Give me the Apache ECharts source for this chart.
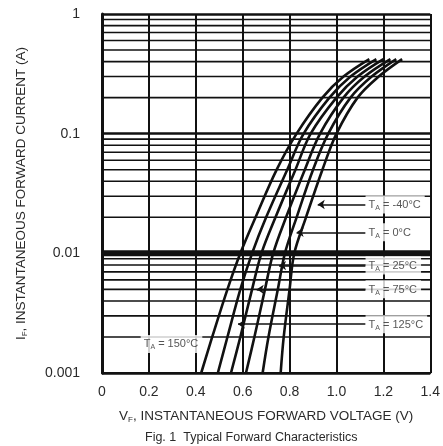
<!DOCTYPE html>
<html>
<head>
<meta charset="utf-8">
<script src="https://cdn.jsdelivr.net/npm/echarts@6/dist/echarts.min.js"></script>
<style>
html,body{margin:0;padding:0;background:#fff;}
#chart{width:443px;height:446px;}
</style>
</head>
<body>
<div id="chart"></div>
<script>
// ---- data ----
const currents = [0.001, 0.002, 0.005, 0.01, 0.02, 0.05, 0.1, 0.2, 0.3, 0.42];
const vfTemp150 = [0.423, 0.47, 0.535, 0.59, 0.655, 0.745, 0.83, 0.94, 1.03, 1.14];
const vfTemp125 = [0.494, 0.535, 0.59, 0.64, 0.70, 0.79, 0.86, 0.97, 1.06, 1.17];
const vfTemp75  = [0.550, 0.59, 0.64, 0.68, 0.74, 0.825, 0.89, 1.00, 1.09, 1.20];
const vfTemp25  = [0.614, 0.65, 0.695, 0.73, 0.785, 0.865, 0.93, 1.03, 1.12, 1.23];
const vfTemp0   = [0.685, 0.71, 0.75, 0.78, 0.83, 0.90, 0.965, 1.06, 1.15, 1.255];
const vfTempM40 = [0.762, 0.775, 0.80, 0.82, 0.87, 0.94, 1.00, 1.09, 1.18, 1.28];

const xTickLabels = ['0', '0.2', '0.4', '0.6', '0.8', '1.0', '1.2', '1.4'];
const yTickValues = [0.001, 0.01, 0.1, 1];
const yTickLabels = ['0.001', '0.01', '0.1', '1'];
const minorGridValues = [0.002,0.003,0.004,0.005,0.006,0.007,0.008,0.009,
                         0.02,0.03,0.04,0.05,0.06,0.07,0.08,0.09,
                         0.2,0.3,0.4,0.5,0.6,0.7,0.8,0.9];
const boldGridValue = 0.01;

const labelTemps    = ['-40°C', '0°C', '25°C', '75°C', '125°C', '150°C'];
const labelCurrents = [0.0256, 0.015, 0.0079, 0.005, 0.00256, 0.00175];
const labelVolts    = [1.124, 1.124, 1.124, 1.124, 1.124, 0.165];
const arrowTipVolts = [0.92, 0.83, 0.755, 0.66, 0.58, null];

// ---- chart ----
const chart = echarts.init(document.getElementById('chart'));
const FONT = 'Liberation Sans, Arial, sans-serif';
const INK = '#111';
const TXT = '#2a2a2a';
const X_MIN = 0, X_MAX = 1.4;

function curve(name, vals) {
  return {
    name: name, type: 'line', smooth: 0.35, symbol: 'none', z: 4,
    lineStyle: { color: INK, width: 2.6 },
    data: vals.map((v, i) => [v, currents[i]])
  };
}

function gridSeries(v, w) {
  return {
    type: 'line', symbol: 'none', z: 2, silent: true,
    lineStyle: { color: INK, width: w },
    data: [[X_MIN, v], [X_MAX, v]]
  };
}

const arrowData = [];
arrowTipVolts.forEach((tip, i) => {
  if (tip !== null) {
    arrowData.push([{ coord: [labelVolts[i], labelCurrents[i]] }, { coord: [tip, labelCurrents[i]] }]);
  }
});

const option = {
  animation: false,
  backgroundColor: '#fff',
  textStyle: { fontFamily: FONT },
  title: {
    text: 'Fig. 1  Typical Forward Characteristics',
    left: 140, top: 426,
    textStyle: { fontFamily: FONT, fontSize: 12.5, fontWeight: 'normal', color: TXT }
  },
  grid: { left: 102, right: 10, top: 14, bottom: 73, containLabel: false },
  xAxis: {
    type: 'value', min: X_MIN, max: X_MAX, interval: 0.2,
    name: 'V{s|F}, INSTANTANEOUS FORWARD VOLTAGE (V)',
    nameLocation: 'middle', nameGap: 35,
    nameTextStyle: { fontFamily: FONT, fontSize: 13.5, color: TXT,
      rich: { s: { fontSize: 8, color: TXT, padding: [8, 0, 0, 0] } } },
    axisLine: { show: true, lineStyle: { color: INK, width: 2 } },
    axisTick: { show: false },
    axisLabel: { fontFamily: FONT, fontSize: 14, color: TXT, margin: 12,
      formatter: (v) => xTickLabels[Math.round(v / 0.2)] },
    splitLine: { show: true, lineStyle: { color: INK, width: 2 } }
  },
  yAxis: {
    type: 'log', logBase: 10, min: 0.001, max: 1,
    name: 'I{s|F}, INSTANTANEOUS FORWARD CURRENT (A)',
    nameLocation: 'middle', nameGap: 73, nameRotate: 90,
    nameTextStyle: { fontFamily: FONT, fontSize: 13.5, color: TXT,
      rich: { s: { fontSize: 8, color: TXT, padding: [8, 0, 0, 0] } } },
    axisLine: { show: true, lineStyle: { color: INK, width: 3 } },
    axisTick: { show: false },
    axisLabel: { fontFamily: FONT, fontSize: 14, color: TXT, margin: 22,
      formatter: (v) => {
        const k = yTickValues.findIndex(t => Math.abs(Math.log10(t) - Math.log10(v)) < 1e-6);
        return k >= 0 ? yTickLabels[k] : '';
      } },
    splitLine: { show: true, lineStyle: { color: INK, width: 2.5 } }
  },
  series: minorGridValues.map(v => gridSeries(v, 1.6))
    .concat([gridSeries(boldGridValue, 6)])
    .concat([
    curve('150°C', vfTemp150),
    curve('125°C', vfTemp125),
    curve('75°C', vfTemp75),
    curve('25°C', vfTemp25),
    curve('0°C', vfTemp0),
    curve('-40°C', vfTempM40),
    {
      name: 'arrows', type: 'line', data: [], z: 5, silent: true,
      markLine: {
        silent: true, symbol: ['none', 'arrow'], symbolSize: 7, animation: false,
        label: { show: false },
        lineStyle: { color: INK, width: 1.6, type: 'solid' },
        data: arrowData
      }
    },
    {
      name: 'labels', type: 'scatter', z: 6, symbolSize: 0, silent: true,
      data: labelTemps.map((t, i) => [labelVolts[i], labelCurrents[i], t]),
      label: {
        show: true, position: 'right', distance: 0,
        backgroundColor: '#fff', padding: [3, 4, 2, 3],
        fontFamily: FONT, fontSize: 11, color: TXT,
        formatter: (p) => 'T{s|A} = ' + p.data[2],
        rich: { s: { fontSize: 7, color: TXT, padding: [6, 0, 0, 0] } }
      }
    }
  ])
};
chart.setOption(option);
</script>
</body>
</html>
